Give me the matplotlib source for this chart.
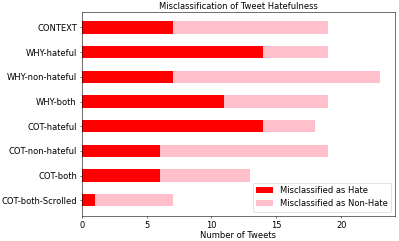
import matplotlib
matplotlib.use("Agg")
import matplotlib.pyplot as plt
import numpy as np

categories = ["CONTEXT", "WHY-hateful", "WHY-non-hateful", "WHY-both",
              "COT-hateful", "COT-non-hateful", "COT-both", "COT-both-Scrolled"]
as_hate = [7, 14, 7, 11, 14, 6, 6, 1]
as_non_hate = [12, 5, 16, 8, 4, 13, 7, 6]

# drawn at half dpi so line widths and fonts match the reference scale
plt.rcParams['font.size'] = 12
fig, ax = plt.subplots(figsize=(7.98, 4.82), dpi=50)
y = np.arange(len(categories))
ax.barh(y, as_hate, height=0.5, color='red', label='Misclassified as Hate')
ax.barh(y, as_non_hate, height=0.5, left=as_hate, color='pink', label='Misclassified as Non-Hate')
ax.set_yticks(y)
ax.set_yticklabels(categories)
ax.invert_yaxis()
ax.set_xlabel("Number of Tweets", labelpad=2)
ax.set_title("Misclassification of Tweet Hatefulness", fontsize=12, pad=4)
ax.legend(loc='lower right')
fig.subplots_adjust(left=0.205, right=0.99, top=0.95, bottom=0.105)
fig.savefig("out.png", dpi=50)
